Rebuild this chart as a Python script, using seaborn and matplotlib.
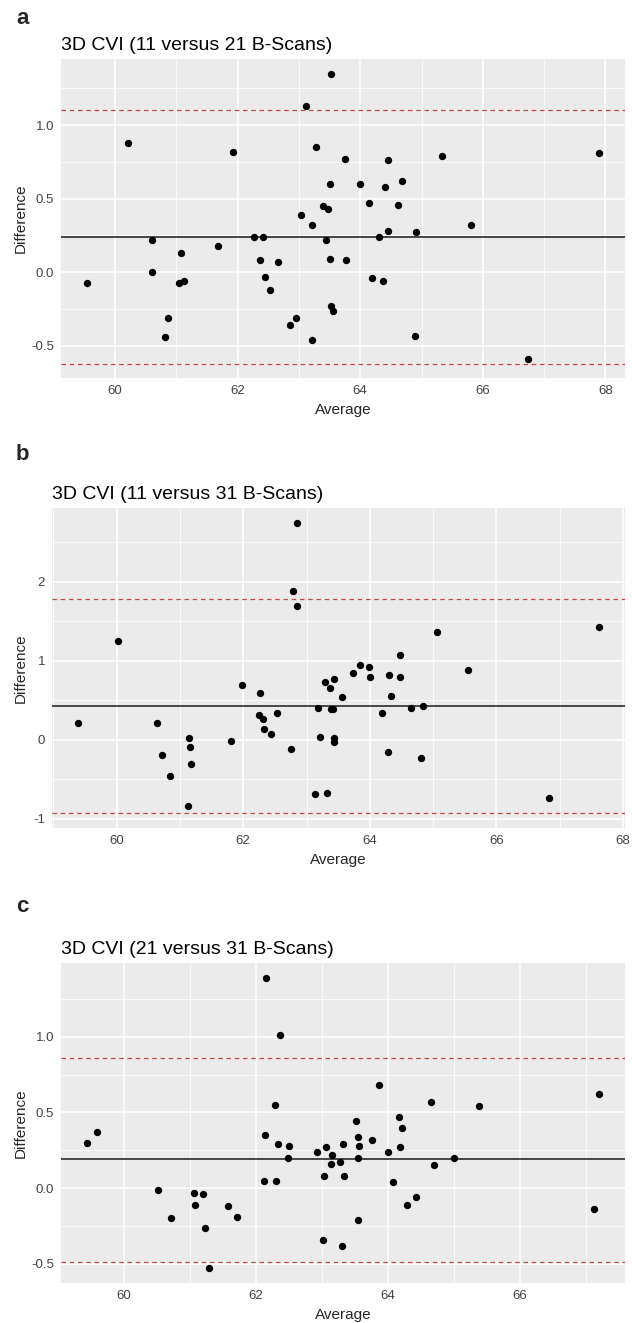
import numpy as np
import pandas as pd
import matplotlib
matplotlib.use('Agg')
import matplotlib.pyplot as plt
from matplotlib.ticker import MultipleLocator
import seaborn as sns

# 1. DATA
avg_a = [59.54, 60.21, 60.61, 60.60, 60.81, 60.87, 61.04, 61.13, 61.08, 61.69,
         61.92, 62.27, 62.42, 62.36, 62.45, 62.53, 62.66, 62.85, 62.95, 63.03,
         63.12, 63.21, 63.21, 63.28, 63.40, 63.47, 63.45, 63.51, 63.51, 63.53,
         63.53, 63.56, 63.75, 63.77, 64.00, 64.15, 64.19, 64.30, 64.38, 64.41,
         64.46, 64.46, 64.62, 64.69, 64.91, 64.89, 65.33, 65.81, 66.74, 67.90]
diff_a = [-0.07, 0.88, 0.22, 0.00, -0.44, -0.31, -0.07, -0.06, 0.13, 0.18,
          0.82, 0.24, 0.24, 0.08, -0.03, -0.12, 0.07, -0.36, -0.31, 0.39,
          1.13, 0.32, -0.46, 0.85, 0.45, 0.43, 0.22, 0.60, 0.09, 1.35,
          -0.23, -0.26, 0.77, 0.08, 0.60, 0.47, -0.04, 0.24, -0.06, 0.58,
          0.76, 0.28, 0.46, 0.62, 0.27, -0.43, 0.79, 0.32, -0.59, 0.81]
bias_a = 0.24
loa_a = [-0.62, 1.10]

avg_b = [59.39, 60.02, 60.63, 60.72, 60.84, 61.14, 61.16, 61.18, 61.12, 61.81,
         61.98, 62.26, 62.25, 62.31, 62.33, 62.44, 62.53, 62.78, 62.85, 62.85,
         62.76, 63.13, 63.18, 63.22, 63.29, 63.32, 63.37, 63.38, 63.42, 63.44,
         63.44, 63.44, 63.56, 63.73, 63.85, 63.99, 64.01, 64.20, 64.28, 64.31,
         64.34, 64.47, 64.48, 64.65, 64.84, 64.81, 65.06, 65.55, 66.83, 67.62]
diff_b = [0.22, 1.25, 0.22, -0.19, -0.46, 0.03, -0.09, -0.31, -0.84, -0.01,
          0.70, 0.59, 0.31, 0.27, 0.14, 0.08, 0.34, 1.88, 2.75, 1.69,
          -0.11, -0.69, 0.40, 0.04, 0.73, -0.67, 0.66, 0.39, 0.39, 0.77,
          0.03, -0.02, 0.54, 0.85, 0.95, 0.92, 0.79, 0.34, -0.15, 0.82,
          0.55, 0.80, 1.08, 0.40, 0.43, -0.23, 1.37, 0.88, -0.73, 1.43]
bias_b = 0.43
loa_b = [-0.93, 1.785]

avg_c = [59.43, 59.58, 60.52, 60.71, 61.06, 61.07, 61.19, 61.23, 61.29, 61.57,
         61.71, 62.12, 62.14, 62.15, 62.29, 62.31, 62.34, 62.36, 62.49, 62.50,
         62.93, 63.01, 63.03, 63.06, 63.14, 63.16, 63.28, 63.30, 63.32, 63.34,
         63.52, 63.55, 63.57, 63.55, 63.55, 63.76, 63.86, 64.01, 64.08, 64.17,
         64.21, 64.19, 64.29, 64.43, 64.66, 64.70, 65.01, 65.38, 67.13, 67.21]
diff_c = [0.30, 0.37, -0.01, -0.20, -0.03, -0.11, -0.04, -0.26, -0.53, -0.12,
          -0.19, 0.05, 0.35, 1.39, 0.55, 0.05, 0.29, 1.01, 0.20, 0.28,
          0.24, -0.34, 0.08, 0.27, 0.16, 0.22, 0.17, -0.38, 0.29, 0.08,
          0.44, 0.34, 0.28, 0.20, -0.21, 0.32, 0.68, 0.24, 0.04, 0.47,
          0.40, 0.27, -0.11, -0.06, 0.57, 0.15, 0.20, 0.54, -0.14, 0.62]
bias_c = 0.19
loa_c = [-0.485, 0.86]

titles = ['3D CVI (11 versus 21 B-Scans)',
          '3D CVI (11 versus 31 B-Scans)',
          '3D CVI (21 versus 31 B-Scans)']
tags = ['a', 'b', 'c']
y_steps = [0.5, 1.0, 0.5]

# panel boxes in pixels: left, top, right, bottom
FIG_W, FIG_H = 632, 1323
boxes = [(61, 59, 625, 378), (52, 508, 625, 828), (61, 963, 625, 1283)]
tag_y = [18, 455, 906]


def expand(vals, frac=0.05):
    # ggplot-style 5% expansion of the data range
    lo, hi = min(vals), max(vals)
    pad = (hi - lo) * frac
    return lo - pad, hi + pad


def draw_panel(fig, box, avg, diff, bias, loa, title, ystep):
    l, t, r, b = box
    ax = fig.add_axes([l / FIG_W, 1 - b / FIG_H, (r - l) / FIG_W, (b - t) / FIG_H])
    df = pd.DataFrame({'Average': avg, 'Difference': diff})
    sns.scatterplot(data=df, x='Average', y='Difference', ax=ax, color='black',
                    s=28, linewidth=0, zorder=3)
    ax.axhline(bias, color='#1A1A1A', lw=1.1, zorder=2)
    for v in loa:
        ax.axhline(v, color='#C44848', lw=0.9, ls=(0, (3.6, 3.0)), zorder=2)

    ax.set_xlim(expand(avg))
    ax.set_ylim(expand(list(diff) + [bias] + list(loa)))

    ax.xaxis.set_major_locator(MultipleLocator(2))
    ax.xaxis.set_minor_locator(MultipleLocator(1))
    ax.yaxis.set_major_locator(MultipleLocator(ystep))
    ax.yaxis.set_minor_locator(MultipleLocator(ystep / 2))
    if ystep == 1.0:
        ax.yaxis.set_major_formatter(lambda v, p: f'{v:.0f}')
    else:
        ax.yaxis.set_major_formatter(lambda v, p: f'{v:.1f}')

    ax.grid(which='major', color='white', lw=1.1)
    ax.grid(which='minor', color='white', lw=0.55)
    ax.set_axisbelow(True)
    for s in ax.spines.values():
        s.set_visible(False)
    ax.tick_params(which='major', length=2.75, width=0.8, color='#333333',
                   labelcolor='#444444', labelsize=9.5, pad=2.2)
    ax.tick_params(which='minor', length=0)

    ax.set_title(title, loc='left', fontsize=14, pad=6.5, color='black')
    ax.set_xlabel('Average', fontsize=11)
    ax.set_ylabel('Difference', fontsize=11)
    ax.xaxis.set_label_coords(0.5, -25 / (b - t))
    ax.yaxis.set_label_coords((28 - l) / (r - l), 0.5)
    return ax


def main():
    sns.set_theme(style='darkgrid', rc={'axes.facecolor': '#EBEBEB'})
    plt.rcParams['font.family'] = ['Liberation Sans', 'DejaVu Sans']

    fig = plt.figure(figsize=(FIG_W / 100, FIG_H / 100), dpi=100)
    fig.patch.set_facecolor('white')

    data = [(avg_a, diff_a, bias_a, loa_a),
            (avg_b, diff_b, bias_b, loa_b),
            (avg_c, diff_c, bias_c, loa_c)]
    for i, (avg, diff, bias, loa) in enumerate(data):
        draw_panel(fig, boxes[i], avg, diff, bias, loa, titles[i], y_steps[i])
        fig.text(16 / FIG_W, 1 - tag_y[i] / FIG_H, tags[i], fontsize=16,
                 fontweight='bold', va='center', ha='left')

    fig.savefig('out.png', dpi=100)
    plt.close(fig)


if __name__ == "__main__":
    main()
